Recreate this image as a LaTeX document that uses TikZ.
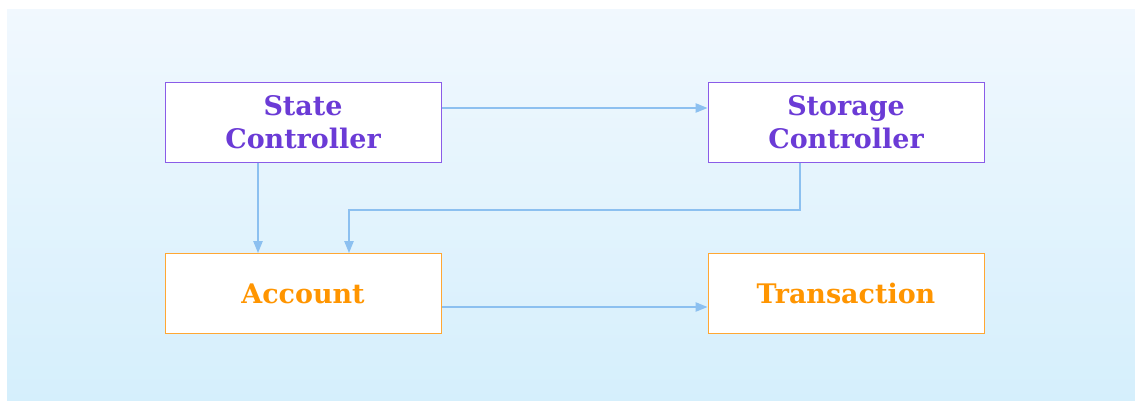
\documentclass[tikz,border=0pt]{standalone}
\usepackage{fontspec}
\setmainfont{DejaVu Serif}
\usetikzlibrary{arrows.meta}
\definecolor{bgtop}{HTML}{F1F8FE}
\definecolor{bgbot}{HTML}{D5EFFC}
\definecolor{ctrl}{HTML}{6B3BD6}
\definecolor{ctrlborder}{HTML}{8A5CE8}
\definecolor{ent}{HTML}{FF9500}
\definecolor{entborder}{HTML}{FFA733}
\definecolor{conn}{HTML}{8CC0F0}
\tikzset{
  px/.style={x=0.75pt,y=-0.75pt},
  box/.style={draw, fill=white, line width=0.75pt, minimum width=276*0.75pt, minimum height=80*0.75pt, inner sep=0pt, align=center, font=\bfseries\fontsize{20.2}{24.8}\selectfont},
  ctrlbox/.style={box, draw=ctrlborder, text=ctrl},
  entbox/.style={box, draw=entborder, text=ent},
  conn/.style={draw=conn, line width=1.2pt, -{Triangle[length=9pt,width=7pt]}}
}
\begin{document}
\begin{tikzpicture}[px]
\useasboundingbox (0,0) rectangle (1135,400);
\shade[top color=bgtop, bottom color=bgbot] (7,9) rectangle (1135,400);
\node[ctrlbox] (state) at (303,122) {State\\Controller};
\node[ctrlbox] (storage) at (846,122) {Storage\\Controller};
\node[entbox] (account) at (303,293.5) {Account};
\node[entbox] (trans) at (846,293.5) {Transaction};
\draw[conn] (state.east |- 0,108) -- (storage.west |- 0,108);
\draw[conn] (state.south -| 258,0) -- (account.north -| 258,0);
\coordinate (bend1) at (800,210);
\coordinate (bend2) at (349,210);
\draw[conn] (storage.south -| 800,0) -- (bend1) -- (bend2) -- (account.north -| 349,0);
\draw[conn] (account.east |- 0,307) -- (trans.west |- 0,307);
\end{tikzpicture}
\end{document}
